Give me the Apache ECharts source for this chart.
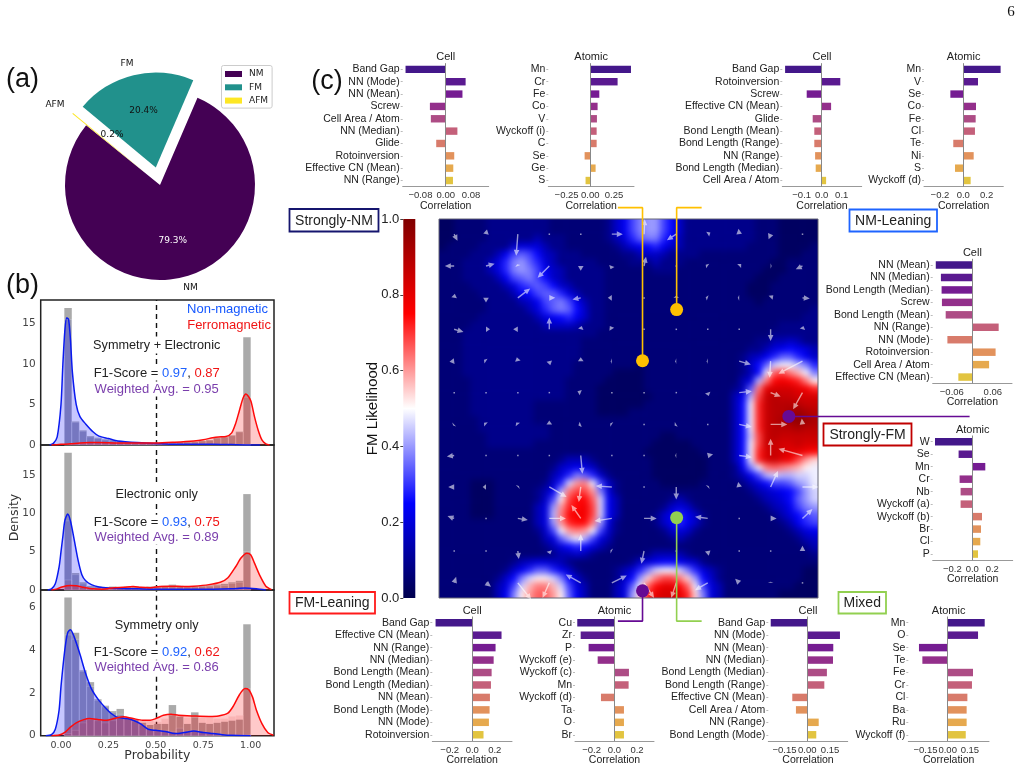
<!DOCTYPE html>
<html><head><meta charset="utf-8">
<style>
html,body{margin:0;padding:0;background:#fff;width:1023px;height:770px;overflow:hidden}
#clip{position:absolute;left:439px;top:219px;width:379px;height:379px;overflow:hidden;background:#000090}
#heat{position:absolute;left:-8px;top:-8px;width:395px;height:395px;filter:blur(3px)}
#main{position:absolute;left:0;top:0;width:1023px;height:770px}
</style>
<script src="https://cdn.jsdelivr.net/npm/echarts@6/dist/echarts.min.js"></script>
</head><body>
<div id="clip"><div id="heat"></div></div>
<div id="main"></div>
<script>
// ---------- (a) pie
const pieNames = ['NM','FM','AFM'];
const pieValues = [79.3,20.4,0.2];
const pieColors = ['#440154','#21918c','#fde725'];

// ---------- (b) histograms and densities
const p1Grey = [16.9,2.9,1.8,1.1,.9,.7,.6,.5,.4,.35,.3,.3,.3,.3,.3,.35,.4,.4,.5,.6,.9,1.0,1.2,1.65,13.3];
const p1BlueHist = [15.5,2.8,1.7,1,.8,.6,.5,.4,.3,.25,.2,.2,.15,.15,.15,.15,.1,.1,.1,.1,.1,.05,.05,.05,.05];
const p1RedHist = [.1,.15,.2,.3,.3,.3,.3,.25,.25,.25,.25,.25,.25,.25,.3,.35,.35,.4,.5,.6,.85,.95,1.15,1.6,5.9];
const p1BlueKde = [[-.06,0],[-.04,.2],[-.02,1],[0,5],[.01,10],[.02,14],[.03,15.7],[.04,15.5],[.05,13],[.06,9],[.08,5],[.1,3.5],[.13,2.6],[.17,1.6],[.2,1.1],[.25,.8],[.3,.5],[.4,.3],[.5,.2],[.6,.1],[.7,.1],[.8,.1],[.9,.05],[1,0],[1.05,0]];
const p1RedKde = [[-.05,0],[0,.08],[.05,.15],[.1,.25],[.15,.3],[.2,.3],[.3,.25],[.4,.25],[.5,.25],[.6,.35],[.7,.5],[.75,.65],[.8,.9],[.83,1.0],[.87,1.05],[.9,1.5],[.92,2.6],[.94,4.2],[.96,5.8],[.975,6.3],[1.0,5.5],[1.02,3.5],[1.04,1.8],[1.06,.6],[1.08,.15],[1.1,0]];
const p2Grey = [17.9,2.2,1.0,.5,.45,.4,.45,.4,.45,.45,.4,.45,.5,.55,.7,.55,.5,.5,.55,.6,.7,.8,1.0,1.2,12.5];
const p2BlueHist = [9,2,.8,.3,.2,.2,.15,.15,.15,.15,.1,.1,.1,.1,.1,.1,.1,.1,.1,.1,.1,.1,.1,.15,.3];
const p2RedHist = [1.3,.6,.3,.2,.2,.25,.3,.3,.3,.3,.3,.35,.4,.45,.55,.45,.4,.4,.45,.5,.55,.6,.85,1.0,5];
const p2BlueKde = [[-.07,0],[-.05,.15],[-.03,.8],[-.01,3],[0,5],[.01,7],[.02,9],[.035,9.9],[.05,9],[.07,6.5],[.09,3.9],[.11,2],[.13,1.2],[.16,.7],[.2,.4],[.25,.25],[.3,.2],[.4,.15],[.5,.1],[.6,.1],[.7,.1],[.8,.1],[.9,.15],[.97,.25],[1.03,.15],[1.08,0]];
const p2RedKde = [[-.05,0],[-.02,.15],[0,.35],[.03,.55],[.05,.6],[.08,.55],[.12,.35],[.17,.15],[.22,.1],[.28,.3],[.33,.35],[.38,.45],[.42,.35],[.47,.3],[.52,.45],[.58,.5],[.65,.45],[.7,.5],[.78,.7],[.84,1],[.88,1.6],[.92,3],[.95,4.2],[.98,4.8],[1.0,4.6],[1.02,3.5],[1.05,1.8],[1.08,.5],[1.11,.05]];
const p3Grey = [6.45,4.8,3.05,2.5,1.7,1.4,1.15,1.25,.85,.75,.6,.5,.55,.55,1.43,.9,.55,1.09,.6,.55,.6,.65,.7,.75,5.2];
const p3BlueHist = [4.7,4.5,3.0,2.3,1.65,1.35,1.1,1.0,.8,.65,.5,.3,.25,.25,.2,.35,.2,.25,.15,.1,.1,.05,.05,.05,.05];
const p3RedHist = [.1,.25,.6,.75,.7,.6,.7,.8,.85,.8,.75,.7,.65,.8,.95,.9,.85,.85,.85,.85,.8,.8,.9,.95,2.2];
const p3BlueKde = [[-.08,0],[-.05,.05],[-.03,.3],[-.01,1.2],[0,2.3],[.02,4],[.035,4.8],[.05,4.95],[.07,4.6],[.1,3.8],[.13,2.9],[.16,2.2],[.2,1.65],[.24,1.25],[.27,1.0],[.3,.85],[.35,.8],[.38,.72],[.42,.55],[.46,.3],[.5,.25],[.55,.2],[.6,.1],[.65,.15],[.7,.22],[.75,.15],[.8,.1],[.85,.05],[.9,.02],[1,0]];
const p3RedKde = [[-.05,0],[-.01,.03],[.02,.15],[.05,.4],[.08,.6],[.12,.75],[.15,.8],[.2,.75],[.24,.72],[.28,.8],[.33,.88],[.38,.8],[.43,.72],[.47,.72],[.5,.8],[.54,.95],[.58,1.0],[.62,.95],[.7,.92],[.78,.9],[.83,.92],[.88,1.05],[.91,1.4],[.94,1.9],[.97,2.2],[.99,2.15],[1.01,1.8],[1.03,1.2],[1.06,.55],[1.09,.15],[1.12,.02]];

// ---------- (c) bar panels
const catsTopCell1 = ['Band Gap','NN (Mode)','NN (Mean)','Screw','Cell Area / Atom','NN (Median)','Glide','Rotoinversion','Effective CN (Mean)','NN (Range)'];
const valsTopCell1 = [-.127,.063,.053,-.05,-.047,.037,-.03,.027,.024,.023];
const catsTopAtom1 = ['Mn','Cr','Fe','Co','V','Wyckoff (i)','C','Se','Ge','S'];
const valsTopAtom1 = [.429,.288,.095,.077,.07,.067,.067,-.06,.056,-.05];
const catsTopCell2 = ['Band Gap','Rotoinversion','Screw','Effective CN (Mean)','Glide','Bond Length (Mean)','Bond Length (Range)','NN (Range)','Bond Length (Median)','Cell Area / Atom'];
const valsTopCell2 = [-.183,.093,-.075,.047,-.045,-.037,-.037,-.033,-.03,.022];
const catsTopAtom2 = ['Mn','V','Se','Co','Fe','Cl','Te','Ni','S','Wyckoff (d)'];
const valsTopAtom2 = [.32,.126,-.111,.109,.106,.1,-.086,.089,-.071,.063];
const catsRightCell = ['NN (Mean)','NN (Median)','Bond Length (Median)','Screw','Bond Length (Mean)','NN (Range)','NN (Mode)','Rotoinversion','Cell Area / Atom','Effective CN (Mean)'];
const valsRightCell = [-.107,-.092,-.09,-.089,-.078,.077,-.073,.068,.049,-.041];
const catsRightAtom = ['W','Se','Mn','Cr','Nb','Wyckoff (a)','Wyckoff (b)','Br','Cl','P'];
const valsRightAtom = [-.373,-.137,.13,-.127,-.117,-.117,.097,.087,.08,.057];
const catsBotCell1 = ['Band Gap','Effective CN (Mean)','NN (Range)','NN (Median)','Bond Length (Mean)','Bond Length (Median)','NN (Mean)','Bond Length (Mode)','NN (Mode)','Rotoinversion'];
const valsBotCell1 = [-.326,.26,.207,.19,.172,.166,.157,.154,.148,.1];
const catsBotAtom1 = ['Cu','Zr','P','Wyckoff (e)','Wyckoff (c)','Mn','Wyckoff (d)','Ta','O','Br'];
const valsBotAtom1 = [-.327,-.297,-.227,-.147,.129,.126,-.118,.085,.085,.085];
const catsBotCell2 = ['Band Gap','NN (Mode)','NN (Mean)','NN (Median)','Bond Length (Median)','Bond Length (Range)','Effective CN (Mean)','Cell Area / Atom','NN (Range)','Bond Length (Mode)'];
const valsBotCell2 = [-.241,.215,.171,.169,.129,.112,-.099,-.075,.075,.059];
const catsBotAtom2 = ['Mn','O','Se','Te','Fe','Cr','Cl','Ba','Ru','Wyckoff (f)'];
const valsBotAtom2 = [.25,.205,-.194,-.171,.171,.164,.133,.128,.128,.122];
const barPalette = ['#43178A','#5A1A90','#751C92','#932F8B','#AD4C85','#C4607A','#D87B6B','#E2925C','#E6A94E','#E2C440'];

// ---------- (c) FM likelihood map, read cell by cell, base-36 digit = value*35
const fieldRows = [
"11222233 33333322 22222368 bdeeb963 33333333 22211111",
"11222233 33333322 22222368 bdeeb963 33333333 22211111",
"11222233 33335333 22222357 acdda853 33333333 22211111",
"12222333 36777533 22222235 789a8653 33333332 22211112",
"22223335 8bcb9653 33222223 35665333 32222222 22211122",
"22233357 adeca753 33332222 33353332 22222222 22112222",
"22233357 adedb865 33333222 22233322 22222222 21112222",
"22233335 8bcdb965 33333222 22222222 22222222 11122222",
"22223333 57abcb96 53333222 22222222 22222221 11222222",
"22222333 3589bcca 75333222 22222222 22222221 11222222",
"22222233 33568bcd b8533222 22222222 22222222 12222222",
"22222233 33357acd c9633222 22222222 22222222 22222223",
"22222333 33335789 a8633222 22222222 22222222 22222233",
"22223333 33333566 65333222 22222222 22222222 22233333",
"22233333 33333333 33332222 22222222 22222222 22333333",
"22233333 33333333 33222222 22222222 22222222 33556533",
"22233333 33333333 33222222 22222222 22222223 35789875",
"22233333 33333333 33222222 22222222 22222235 68acca86",
"22233333 33333333 32222222 21222222 22222236 9cghhfda",
"22233333 33333333 32222211 11222222 22222235 9hnomkhd",
"22223333 33333333 22222111 11222222 22222257 fmqrqpmi",
"22223333 33333333 22221111 11222222 2222235c mstttsrp",
"22223333 33333333 22221111 11122222 2222258f ouvuuttt",
"22223333 33332222 22221111 11222222 2222259h puvvvvuu",
"22223333 33332222 22221111 22222222 2222259h puvvwxwv",
"22222333 33332222 22222222 22222222 2222259h puvwxyxw",
"22222333 33333322 22222222 22222222 2222259h puvvvwvv",
"22222233 33333322 22222222 22221122 2222259g ouvuuuuu",
"22222233 33332222 22222222 22211111 2222259h ouuttutt",
"22222222 22222222 22222222 22111111 1222259h ptutssrq",
"22222222 22222223 55532222 22211111 1122259h ptusrolj",
"22222222 22222236 78763222 22211111 1122238d hmnmlkih",
"22222222 22222257 adca6322 22211111 11222358 bfgffggh",
"22221112 2222236a glmhb632 22221111 12222235 79bbcefh",
"22221112 2222358f moold732 22222222 22222223 56789beg",
"22221112 222236bi oqqng852 22222353 22222222 35679ceg",
"22221112 222257el pqrog852 22223676 32222222 23568bde",
"22221112 222257fm qrrog852 222368a8 63222222 223579bc",
"22222222 222257el pqqme732 222368a8 63222222 222358ab",
"22222222 222236bh lmlhb632 22223676 32222222 22223578",
"22222222 2222257c fhfb7522 22222353 22222222 22222356",
"22222222 22222357 9a975322 22222222 22222222 22222235",
"22222222 22222235 56532222 22355553 22222222 22222223",
"22222222 23567765 32222222 36789987 63222222 22222222",
"22222222 368acca8 63222235 7adghhgd a7532222 22222211",
"22222223 69dgiigd 96322236 9ejmoomj e9632222 22222211",
"22222225 7bgkmmkg b7522257 chnqssqn hb752222 22222111",
"22222225 8dilnnli c8522257 ejpsttsp jd752222 22211111"
];
const colorbarStops = ['#800000','#ff0000','#ffffff','#0000ff','#00004d'];
// quiver: tails on a 12x12 lattice, components read in image units
const arrowX = [.040,.124,.208,.291,.374,.456,.541,.626,.709,.792,.875,.959];
const arrowY = [.96,.876,.792,.709,.625,.542,.458,.376,.293,.21,.124,.04];
const arrowU = [
[10,3,-5,0,0,33,2,-28,8,-2,-6,0],
[-28,26,-2,-35,0,-4,6,0,-6,6,3,-20],
[2,0,37,18,-25,-12,2,0,-6,-4,8,22],
[28,12,-14,0,3,-6,0,0,0,0,0,3],
[-14,-6,-3,3,0,-3,0,-3,-3,35,-3,-72],
[0,0,0,0,-10,0,0,0,3,38,30,-28],
[-3,-6,-5,0,-7,-5,0,-5,0,38,50,-2],
[-22,0,-2,-2,5,0,0,-3,16,38,0,-72],
[-18,-10,3,52,-6,-48,0,0,3,-3,22,48],
[-20,0,30,50,-28,-52,38,0,-38,0,18,30],
[0,0,3,3,0,-4,-8,0,3,0,0,0],
[6,15,40,-20,-45,45,30,-15,-38,-12,0,0]];
const arrowV = [
[20,-14,65,0,0,0,-45,18,-5,-16,15,0],
[0,-7,-5,35,14,10,-28,0,-4,-6,0,10],
[-12,14,-28,0,5,0,0,-6,-2,0,-8,2],
[8,0,0,-35,-10,-10,0,0,0,0,35,-10],
[2,-4,-12,12,-12,0,0,0,0,10,50,38],
[0,0,0,0,-4,0,0,0,10,-4,12,50],
[3,-5,-6,-12,3,-3,0,3,0,8,0,-18],
[3,0,0,0,55,0,0,0,-4,5,-50,-20],
[0,0,-3,30,45,-3,0,38,-3,-15,-48,0],
[-7,0,5,0,-40,8,0,0,-5,0,0,-28],
[0,0,24,10,-50,-2,38,0,14,0,0,-16],
[-18,12,50,45,-25,-22,45,45,22,-12,-3,0]];
const arrowUnit = 1/1137;
// selected compositions and their leader lines, in map coordinates
const leaders = [
 {color:'#ffc000', path:[[.537,.626],[.537,1.03],[.472,1.03]]},
 {color:'#ffc000', path:[[.627,.761],[.627,1.03],[.693,1.03]]},
 {color:'#660a94', path:[[.923,.479],[1.4,.479]]},
 {color:'#660a94', path:[[.537,.019],[.537,-.061],[.472,-.061]]},
 {color:'#92d050', path:[[.627,.212],[.627,-.061],[.693,-.061]]}
];

// ================= heat map instance
const digits = fieldRows.map(r => r.replace(/ /g,''));
const N = digits.length, heatData = [];
for (let r=-1;r<=N;r++) for (let c=-1;c<=N;c++) {
  const row = digits[Math.max(0,Math.min(N-1,r))];
  const ch = row[Math.max(0,Math.min(row.length-1,c))];
  heatData.push([c+1,r+1,parseInt(ch,36)/35]);
}
const idx = Array.from({length:N+2},(_,i)=>i);
echarts.init(document.getElementById('heat'),null,{renderer:'canvas'}).setOption({
  animation:false,
  grid:{left:0,right:0,top:0,bottom:0},
  xAxis:{type:'category',data:idx,show:false},
  yAxis:{type:'category',data:idx,show:false,inverse:true},
  visualMap:{show:false,min:0,max:1,dimension:2,inRange:{color:colorbarStops.slice().reverse()}},
  series:[{type:'heatmap',data:heatData,progressive:0,silent:true,itemStyle:{borderWidth:0}}]
});

// ================= main instance
const SANS='"Liberation Sans"', DEJA='"DejaVu Sans"';
const grid=[],xAxis=[],yAxis=[],series=[],gfx=[];
function addGrid(g,x,y){grid.push(g);x.gridIndex=y.gridIndex=grid.length-1;xAxis.push(x);yAxis.push(y);return grid.length-1;}
function box(l,r,t,b){return {left:l,width:r-l,top:t,height:b-t,containLabel:false};}
function txt(x,y,text,font,fill,extra){gfx.push(Object.assign({type:'text',x,y,z:60,style:Object.assign({text,font,fill:fill||'#222',align:'center',verticalAlign:'middle'},extra||{})}));}

// pie
series.push({type:'pie',center:[160,185],radius:95,startAngle:141,clockwise:false,selectedMode:'multiple',selectedOffset:18,
  label:{show:false},labelLine:{show:false},silent:true,
  data:pieNames.map((n,i)=>({name:n,value:pieValues[i],selected:i>0,itemStyle:{color:pieColors[i]}}))});
const pieF='9px '+DEJA;
txt(127,63.5,pieNames[1],pieF,'#111');txt(55,104.5,pieNames[2],pieF,'#111');txt(190.5,287.5,pieNames[0],pieF,'#111');
txt(143.5,110.5,pieValues[1]+'%',pieF,'#111');txt(112,135,pieValues[2]+'%',pieF,'#111');txt(172.7,241,pieValues[0]+'%',pieF,'#fff');

// density panels
const binStart=.0176,binW=.0393;
function hist(gi,vals,fill,stroke){series.push({type:'custom',xAxisIndex:gi,yAxisIndex:gi,silent:true,z:2,
  data:vals.map((v,i)=>[i,v]),encode:{x:0,y:1},
  renderItem:(p,api)=>{const i=api.value(0),v=api.value(1);const a=api.coord([binStart+i*binW,0]),b=api.coord([binStart+(i+1)*binW,v]);
    return {type:'rect',shape:{x:a[0],y:b[1],width:b[0]-a[0],height:a[1]-b[1]},style:{fill,stroke:stroke||null,lineWidth:stroke?.7:0}};}});}
function kde(gi,pts,color,fill){series.push({type:'line',xAxisIndex:gi,yAxisIndex:gi,data:pts,smooth:.25,showSymbol:false,silent:true,z:3,
  lineStyle:{color,width:1.5},areaStyle:{color:fill,origin:'start'}});}
function densityPanel(t,b,ymax,yticks,grey,bh,rh,bk,rk,last,mid){
  const gi=addGrid(Object.assign(box(40.7,274,t,b),{show:true,borderColor:'#222',borderWidth:1.5,backgroundColor:'transparent'}),
   {type:'value',min:-.107,max:1.123,splitLine:{show:false},axisLine:{show:false,onZero:false},axisTick:{show:false},
    axisLabel:{show:last,customValues:[0,.25,.5,.75,1],formatter:v=>v.toFixed(2),color:'#444',fontFamily:DEJA,fontSize:9.5,margin:5,hideOverlap:false},
    name:last?'Probability':'',nameLocation:'middle',nameGap:14,nameMoveOverlap:false,nameTextStyle:{fontFamily:DEJA,fontSize:12.5,color:'#333'}},
   {type:'value',min:0,max:ymax,splitLine:{show:false},axisLine:{show:false,onZero:false},axisTick:{show:false},
    axisLabel:{customValues:yticks,color:'#444',fontFamily:DEJA,fontSize:10.5,margin:5},
    name:mid?'Density':'',nameLocation:'middle',nameGap:19,nameMoveOverlap:false,nameTextStyle:{fontFamily:DEJA,fontSize:12.5,color:'#333'}});
  hist(gi,grey,'#aaaaaa');
  hist(gi,bh,'rgba(45,60,200,.14)','rgba(255,255,255,.35)');
  hist(gi,rh,'rgba(200,30,40,.12)','rgba(255,255,255,.35)');
  kde(gi,bk,'#0a1af0','rgba(0,0,255,.32)');
  kde(gi,rk,'#ff0a0a','rgba(255,0,0,.3)');
  series.push({type:'line',xAxisIndex:gi,yAxisIndex:gi,data:[],z:1,markLine:{silent:true,symbol:'none',label:{show:false},z:1,
     lineStyle:{color:'#111',width:1.4,type:[5,4]},data:[{xAxis:.5}]}});
}
densityPanel(300,445,17.9,[0,5,10,15],p1Grey,p1BlueHist,p1RedHist,p1BlueKde,p1RedKde,false,false);
densityPanel(445,590,18.9,[0,5,10,15],p2Grey,p2BlueHist,p2RedHist,p2BlueKde,p2RedKde,false,true);
densityPanel(590,735.7,6.8,[0,2,4,6],p3Grey,p3BlueHist,p3RedHist,p3BlueKde,p3RedKde,true,false);

const F13='13px '+SANS;
const rich={k:{fill:'#222',fontSize:13,fontFamily:'Liberation Sans'},b:{fill:'#1f62ff',fontSize:13,fontFamily:'Liberation Sans'},r:{fill:'#f01414',fontSize:13,fontFamily:'Liberation Sans'}};
function scoreBlock(title,ty,fy,wy,a,c,w){
  txt(156.7,ty,title,'12.7px '+SANS,'#222',{backgroundColor:'#fff',padding:[2,1,2,1]});
  gfx.push({type:'text',x:156.7,y:fy,z:60,style:{text:'{k|F1-Score = }{b|'+a+'}{k|, }{r|'+c+'}',rich,align:'center',verticalAlign:'middle',backgroundColor:'#fff',padding:[1,1,1,1]}});
  txt(156.7,wy,'Weighted Avg. = '+w,F13,'#7a3eac',{backgroundColor:'#fff',padding:[1,1,1,1]});
}
txt(268,309.5,'Non-magnetic',F13,'#1457ff',{align:'right'});
txt(271,325,'Ferromagnetic',F13,'#f01414',{align:'right'});
scoreBlock('Symmetry + Electronic',345,373,389,'0.97','0.87','0.95');
scoreBlock('Electronic only',494.3,522.3,537.3,'0.93','0.75','0.89');
scoreBlock('Symmetry only',625.7,652.3,667.7,'0.92','0.62','0.86');

// correlation bars
function barPanel(l,r,t,b,min,max,ticks,dec,title,cats,vals){
  const gi=addGrid(box(l,r,t,b),
   {type:'value',min,max,splitLine:{show:false},axisLine:{show:true,onZero:false,lineStyle:{color:'#999'}},axisTick:{show:false},
    axisLabel:{customValues:ticks,formatter:v=>(v<0?'\u2212':'')+Math.abs(v).toFixed(dec),color:'#333',fontFamily:'Liberation Sans',fontSize:9.5,margin:4,hideOverlap:false,showMinLabel:true,showMaxLabel:true},
    name:'Correlation',nameLocation:'middle',nameGap:13.5,nameMoveOverlap:false,nameTextStyle:{color:'#222',fontFamily:'Liberation Sans',fontSize:10.5,verticalAlign:'top'}},
   {type:'category',inverse:true,data:cats,axisLine:{show:false,onZero:false},axisTick:{show:true,length:2,alignWithLabel:true,lineStyle:{color:'#bbb'}},
    axisLabel:{interval:0,color:'#222',fontFamily:'Liberation Sans',fontSize:10.5,margin:3},splitLine:{show:false}});
  series.push({type:'bar',xAxisIndex:gi,yAxisIndex:gi,barWidth:'60%',silent:true,z:2,
    data:vals.map((v,i)=>({value:v,itemStyle:{color:barPalette[i]}})),
    markLine:{silent:true,symbol:'none',label:{show:false},lineStyle:{color:'#888',width:1,type:'solid'},data:[{xAxis:0}]}});
  txt((l+r)/2,t-6,title,'11px '+SANS,'#222');
}
barPanel(402.7,488.7,63.2,186.7,-.136,.136,[-.08,0,.08],2,'Cell',catsTopCell1,valsTopCell1);
barPanel(548.3,634,63.2,186.7,-.443,.461,[-.25,0,.25],2,'Atomic',catsTopAtom1,valsTopAtom1);
barPanel(782.3,861.7,63.2,186.7,-.197,.2,[-.1,0,.1],1,'Cell',catsTopCell2,valsTopCell2);
barPanel(924,1003.3,63.2,186.7,-.337,.343,[-.2,0,.2],1,'Atomic',catsTopAtom2,valsTopAtom2);
barPanel(932.7,1012,258.8,383.3,-.116,.116,[-.06,0,.06],2,'Cell',catsRightCell,valsRightCell);
barPanel(932.7,1012.7,435.5,560.3,-.396,.404,[-.2,0,.2],1,'Atomic',catsRightAtom,valsRightAtom);
barPanel(432.3,512,616.5,741,-.355,.353,[-.2,0,.2],1,'Cell',catsBotCell1,valsBotCell1);
barPanel(575,654,616.5,741,-.347,.35,[-.2,0,.2],1,'Atomic',catsBotAtom1,valsBotAtom1);
barPanel(768.3,847.7,616.5,741,-.257,.266,[-.15,0,.15],2,'Cell',catsBotCell2,valsBotCell2);
barPanel(908.3,989,616.5,741,-.266,.279,[-.15,0,.15],2,'Atomic',catsBotAtom2,valsBotAtom2);

// colorbar
const cbi=addGrid(box(403.3,415.3,219,598),
 {type:'category',data:[''],show:false},
 {type:'value',min:0,max:1,interval:.2,splitLine:{show:false},axisLine:{show:false,onZero:false},axisTick:{show:true,length:3,lineStyle:{color:'#444'}},
  axisLabel:{color:'#222',fontFamily:'Liberation Sans',fontSize:13,margin:4,formatter:v=>v.toFixed(1)},
  name:'FM Likelihood',nameLocation:'middle',nameGap:23,nameMoveOverlap:false,nameTextStyle:{color:'#111',fontFamily:'Liberation Sans',fontSize:15}});
series.push({type:'bar',xAxisIndex:cbi,yAxisIndex:cbi,barWidth:'100%',silent:true,data:[1],
  itemStyle:{color:{type:'linear',x:0,y:0,x2:0,y2:1,colorStops:colorbarStops.map((c,i)=>({offset:i/4,color:c}))}}});

// map overlay: quiver on the map box
const mi=addGrid(Object.assign(box(439,818,219,598),{show:true,borderColor:'#667',borderWidth:1,backgroundColor:'transparent'}),
 {type:'value',min:0,max:1,show:false,splitLine:{show:false}},
 {type:'value',min:0,max:1,show:false,splitLine:{show:false}});
const quiver=[];
arrowY.forEach((y,r)=>arrowX.forEach((x,c)=>quiver.push([x,y,arrowU[r][c]*arrowUnit,-arrowV[r][c]*arrowUnit])));
series.push({type:'custom',xAxisIndex:mi,yAxisIndex:mi,silent:true,z:4,clip:false,data:quiver,encode:{x:0,y:1},
 renderItem:(p,api)=>{
  const x=api.value(0),y=api.value(1),a=api.coord([x,y]),b=api.coord([x+api.value(2),y+api.value(3)]);
  const dx=b[0]-a[0],dy=b[1]-a[1],L=Math.hypot(dx,dy);const fill='rgba(255,255,255,.58)';
  if(L<1) return {type:'rect',shape:{x:a[0]-.7,y:a[1]-.7,width:1.5,height:1.5},style:{fill}};
  const ux=dx/L,uy=dy/L,nx=-uy,ny=ux,hl=Math.min(6,L),hw=2.8,sw=.7,m=[b[0]-ux*hl,b[1]-uy*hl];
  const pts=L<=6?[[a[0]+nx*hw,a[1]+ny*hw],b,[a[0]-nx*hw,a[1]-ny*hw]]:
   [[a[0]+nx*sw,a[1]+ny*sw],[m[0]+nx*sw,m[1]+ny*sw],[m[0]+nx*hw,m[1]+ny*hw],b,[m[0]-nx*hw,m[1]-ny*hw],[m[0]-nx*sw,m[1]-ny*sw],[a[0]-nx*sw,a[1]-ny*sw]];
  return {type:'polygon',shape:{points:pts},style:{fill}};
 }});
// leaders and dots: same map coordinates, on an axis pair that spans the whole page so they can leave the map
const wi=addGrid({left:0,top:0,width:1023,height:770,containLabel:false},
 {type:'value',min:-439/379,max:584/379,show:false,splitLine:{show:false}},
 {type:'value',min:-172/379,max:598/379,show:false,splitLine:{show:false}});
leaders.forEach(l=>{
  series.push({type:'line',xAxisIndex:wi,yAxisIndex:wi,data:l.path,showSymbol:false,silent:true,z:5,lineStyle:{color:l.color,width:1.6}});
  series.push({type:'scatter',xAxisIndex:wi,yAxisIndex:wi,data:[l.path[0]],symbolSize:13,silent:true,z:6,itemStyle:{color:l.color,opacity:1}});
});

// captions
function tag(l,r,t,b,text,color){
  gfx.push({type:'rect',z:55,shape:{x:l,y:t,width:r-l,height:b-t},style:{fill:'#fff',stroke:color,lineWidth:1.8}});
  txt((l+r)/2,(t+b)/2+.5,text,'14px '+SANS,'#222');
}
tag(289.5,378.5,209,231.5,'Strongly-NM','#15156e');
tag(849.5,937,209.5,231.5,'NM-Leaning','#1e64ff');
tag(823.5,911.5,423.5,445.5,'Strongly-FM','#c00000');
tag(289.5,375,592,613.5,'FM-Leaning','#ff1a1a');
tag(838.5,886,592,613.5,'Mixed','#92d050');
const big='27px '+SANS;
txt(22.5,80,'(a)',big,'#111');txt(22.5,285.5,'(b)',big,'#111');txt(327,81.5,'(c)',big,'#111');
txt(1011,12.5,'6','15px "Liberation Serif"','#111');

echarts.init(document.getElementById('main'),null,{renderer:'canvas'}).setOption({
  animation:false,backgroundColor:'transparent',
  grid,xAxis,yAxis,series,graphic:{elements:gfx},
  legend:{data:pieNames,orient:'vertical',left:221.5,top:65.5,padding:[4,4,3,3.5],itemWidth:17,itemHeight:6,itemGap:4.3,icon:'rect',
    borderColor:'#ccc',borderWidth:1,borderRadius:2,selectedMode:false,textStyle:{fontFamily:'DejaVu Sans',fontSize:9,color:'#222',padding:[0,0,0,2]}}
});
</script>
</body></html>
